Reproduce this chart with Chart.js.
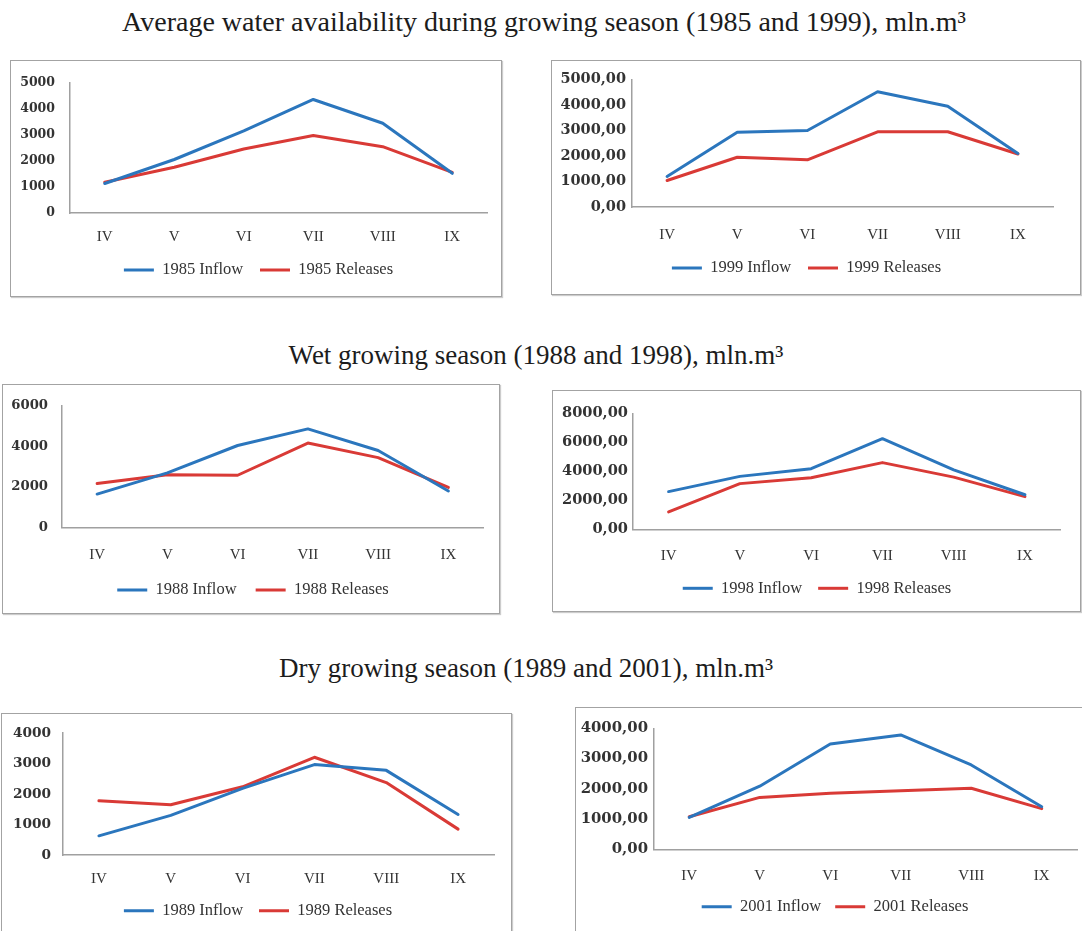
<!DOCTYPE html>
<html>
<head>
<meta charset="utf-8">
<script src="https://cdn.jsdelivr.net/npm/chart.js@4.4.1/dist/chart.umd.min.js"></script>
<style>
  html, body { margin: 0; padding: 0; background: #fff; width: 1082px; height: 931px; overflow: hidden; position: relative; }
  .title { position: absolute; width: 1000px; text-align: center; font-family: "Liberation Serif", "Times New Roman", serif;
           font-size: 27px; line-height: 27px; color: #1c1c1c; white-space: nowrap; }
  .frame { position: absolute; border: 1px solid #a3a3a3; box-shadow: 1px 1px 1px rgba(0,0,0,0.2); box-sizing: border-box; pointer-events: none; }
  canvas { position: absolute; }
</style>
</head>
<body>
<div class="title" style="left:44px; top:8px; font-size:28px; line-height:28px;">Average water availability during growing season (1985 and 1999), mln.m³</div>
<div class="title" style="left:36px; top:342px;">Wet growing season (1988 and 1998), mln.m³</div>
<div class="title" style="left:26px; top:655px;">Dry growing season (1989 and 2001), mln.m³</div>
<script>
// Months of the growing season
const months = ['IV', 'V', 'VI', 'VII', 'VIII', 'IX'];

// Average years
const inflow1985   = [1130, 2050, 3150, 4350, 3440, 1520];
const releases1985 = [1180, 1750, 2450, 2970, 2540, 1560];
const inflow1999   = [1200, 2930, 3000, 4520, 3950, 2100];
const releases1999 = [1040, 1950, 1850, 2950, 2950, 2080];

// Wet years
const inflow1988   = [1650, 2700, 4050, 4870, 3800, 1800];
const releases1988 = [2170, 2610, 2580, 4170, 3450, 1980];
const inflow1998   = [2600, 3650, 4180, 6250, 4100, 2380];
const releases1998 = [1200, 3150, 3550, 4600, 3600, 2250];

// Dry years
const inflow1989   = [630, 1300, 2190, 2970, 2780, 1330];
const releases1989 = [1780, 1650, 2240, 3210, 2380, 850];
const inflow2001   = [1060, 2090, 3480, 3780, 2790, 1410];
const releases2001 = [1080, 1720, 1860, 1940, 2020, 1350];

const BLUE = '#2b76bd';
const RED = '#d93a36';
const AXIS = '#a0a0a0';
const SERIF = '"Liberation Serif", "Times New Roman", serif';

const plainTick = v => String(v);
const commaTick = v => v.toFixed(2).replace('.', ',');

const panels = [
  { year: '1985', inflow: inflow1985, releases: releases1985, yMax: 5000, step: 1000, fmt: plainTick,
    box: { l: 10, t: 60, r: 502, b: 297 }, plot: { l: 70, r: 487, t: 80, b: 213 },
    xLabelY: 235, legend: { cx: 258.5, cy: 270 }, yFont: 12.5, yPad: 15 },
  { year: '1999', inflow: inflow1999, releases: releases1999, yMax: 5000, step: 1000, fmt: commaTick,
    box: { l: 551, t: 60, r: 1081, b: 295 }, plot: { l: 632, r: 1053, t: 79.5, b: 207 },
    xLabelY: 233, legend: { cx: 806.5, cy: 268 }, yFont: 14.5, yPad: 6 },
  { year: '1988', inflow: inflow1988, releases: releases1988, yMax: 6000, step: 2000, fmt: plainTick,
    box: { l: 2, t: 384, r: 500, b: 614 }, plot: { l: 62, r: 483.5, t: 406, b: 527.5 },
    xLabelY: 552.7, legend: { cx: 253, cy: 590 }, yFont: 13.2, yPad: 14 },
  { year: '1998', inflow: inflow1998, releases: releases1998, yMax: 8000, step: 2000, fmt: commaTick,
    box: { l: 552, t: 390, r: 1081, b: 612 }, plot: { l: 633, r: 1060.6, t: 413.3, b: 529.3 },
    xLabelY: 554, legend: { cx: 817, cy: 588.3 }, yFont: 14.6, yPad: 5 },
  { year: '1989', inflow: inflow1989, releases: releases1989, yMax: 4000, step: 1000, fmt: plainTick,
    box: { l: 1, t: 713, r: 512, b: 960 }, plot: { l: 63, r: 494, t: 731.7, b: 855 },
    xLabelY: 876.7, legend: { cx: 258, cy: 910.7 }, yFont: 13.7, yPad: 12 },
  { year: '2001', inflow: inflow2001, releases: releases2001, yMax: 4000, step: 1000, fmt: commaTick,
    box: { l: 575, t: 707, r: 1100, b: 960 }, plot: { l: 654, r: 1077, t: 728.3, b: 849.5 },
    xLabelY: 874.3, legend: { cx: 835, cy: 906.7 }, yFont: 14.9, yPad: 6 }
];

const X_FONT = 15;
const LEG_FONT = 16.5;

function makeChart(p) {
  const W = p.box.r - p.box.l, H = p.box.b - p.box.t;

  const canvas = document.createElement('canvas');
  canvas.width = W; canvas.height = H;
  canvas.style.left = p.box.l + 'px'; canvas.style.top = p.box.t + 'px';
  canvas.style.width = W + 'px'; canvas.style.height = H + 'px';
  document.body.appendChild(canvas);

  const frame = document.createElement('div');
  frame.className = 'frame';
  frame.style.left = p.box.l + 'px'; frame.style.top = p.box.t + 'px';
  frame.style.width = W + 'px'; frame.style.height = H + 'px';
  document.body.appendChild(frame);

  // plot rectangle inside the canvas
  const plotL = p.plot.l - p.box.l, plotR = p.plot.r - p.box.l;
  const plotT = p.plot.t - p.box.t, plotB = p.plot.b - p.box.t;

  // side paddings chosen so the full-width legend is centred where wanted
  const cx = p.legend.cx - p.box.l;
  const d = 2 * cx - W;
  const padL = Math.max(d, 0), padR = Math.max(-d, 0);
  const yW = plotL - padL;
  const rW = (W - padR) - plotR;

  // x-axis band tall enough to hold its labels, legend row below it
  const xH = (p.xLabelY - p.plot.b) + 10;
  const legGap = (p.legend.cy - p.box.t) - plotB - xH - LEG_FONT / 2;
  const legH = H - plotB - xH;
  const xPad = p.xLabelY - p.plot.b - 0.47 * X_FONT;

  new Chart(canvas, {
    type: 'line',
    data: {
      labels: months,
      datasets: [
        { label: p.year + ' Inflow', data: p.inflow, borderColor: BLUE, backgroundColor: BLUE, borderWidth: 3 },
        { label: p.year + ' Releases', data: p.releases, borderColor: RED, backgroundColor: RED, borderWidth: 3 }
      ]
    },
    options: {
      responsive: false,
      animation: false,
      devicePixelRatio: 1,
      layout: { padding: { left: padL, right: padR, top: plotT, bottom: 0 } },
      elements: {
        point: { radius: 0, hoverRadius: 0 },
        line: { tension: 0, borderJoinStyle: 'round', borderCapStyle: 'round' }
      },
      scales: {
        x: {
          type: 'category', offset: true,
          grid: { display: false, drawTicks: false },
          border: { display: true, color: AXIS, width: 1.5 },
          ticks: { padding: xPad, color: '#333', maxRotation: 0, autoSkip: false,
                   font: { family: SERIF, size: X_FONT } },
          afterFit(s) { s.height = xH; }
        },
        y: {
          min: 0, max: p.yMax,
          grid: { display: false, drawTicks: false },
          border: { display: true, color: AXIS, width: 1.5 },
          ticks: { stepSize: p.step, padding: p.yPad, color: '#333',
                   font: { family: '"DejaVu Serif", serif', weight: 'bold', size: p.yFont },
                   callback: v => p.fmt(v) },
          afterFit(s) { s.width = yW; }
        },
        yR: {
          type: 'linear', position: 'right', display: true,
          grid: { display: false, drawTicks: false },
          border: { display: false },
          ticks: { display: false },
          afterFit(s) { s.width = rW; }
        }
      },
      plugins: {
        tooltip: { enabled: false },
        legend: {
          position: 'bottom',
          labels: { usePointStyle: true, pointStyle: 'line', pointStyleWidth: 30, padding: legGap,
                    color: '#333', font: { family: SERIF, size: LEG_FONT } }
        }
      }
    },
    plugins: [{
      id: 'legendBand',
      beforeLayout(chart) {
        const lg = chart.legend;
        if (lg && !lg._bandFixed) {
          const fit = lg.fit;
          lg.fit = function () { fit.call(this); this.height = legH; };
          lg._bandFixed = true;
        }
      }
    }]
  });
}

panels.forEach(makeChart);
</script>
</body>
</html>
